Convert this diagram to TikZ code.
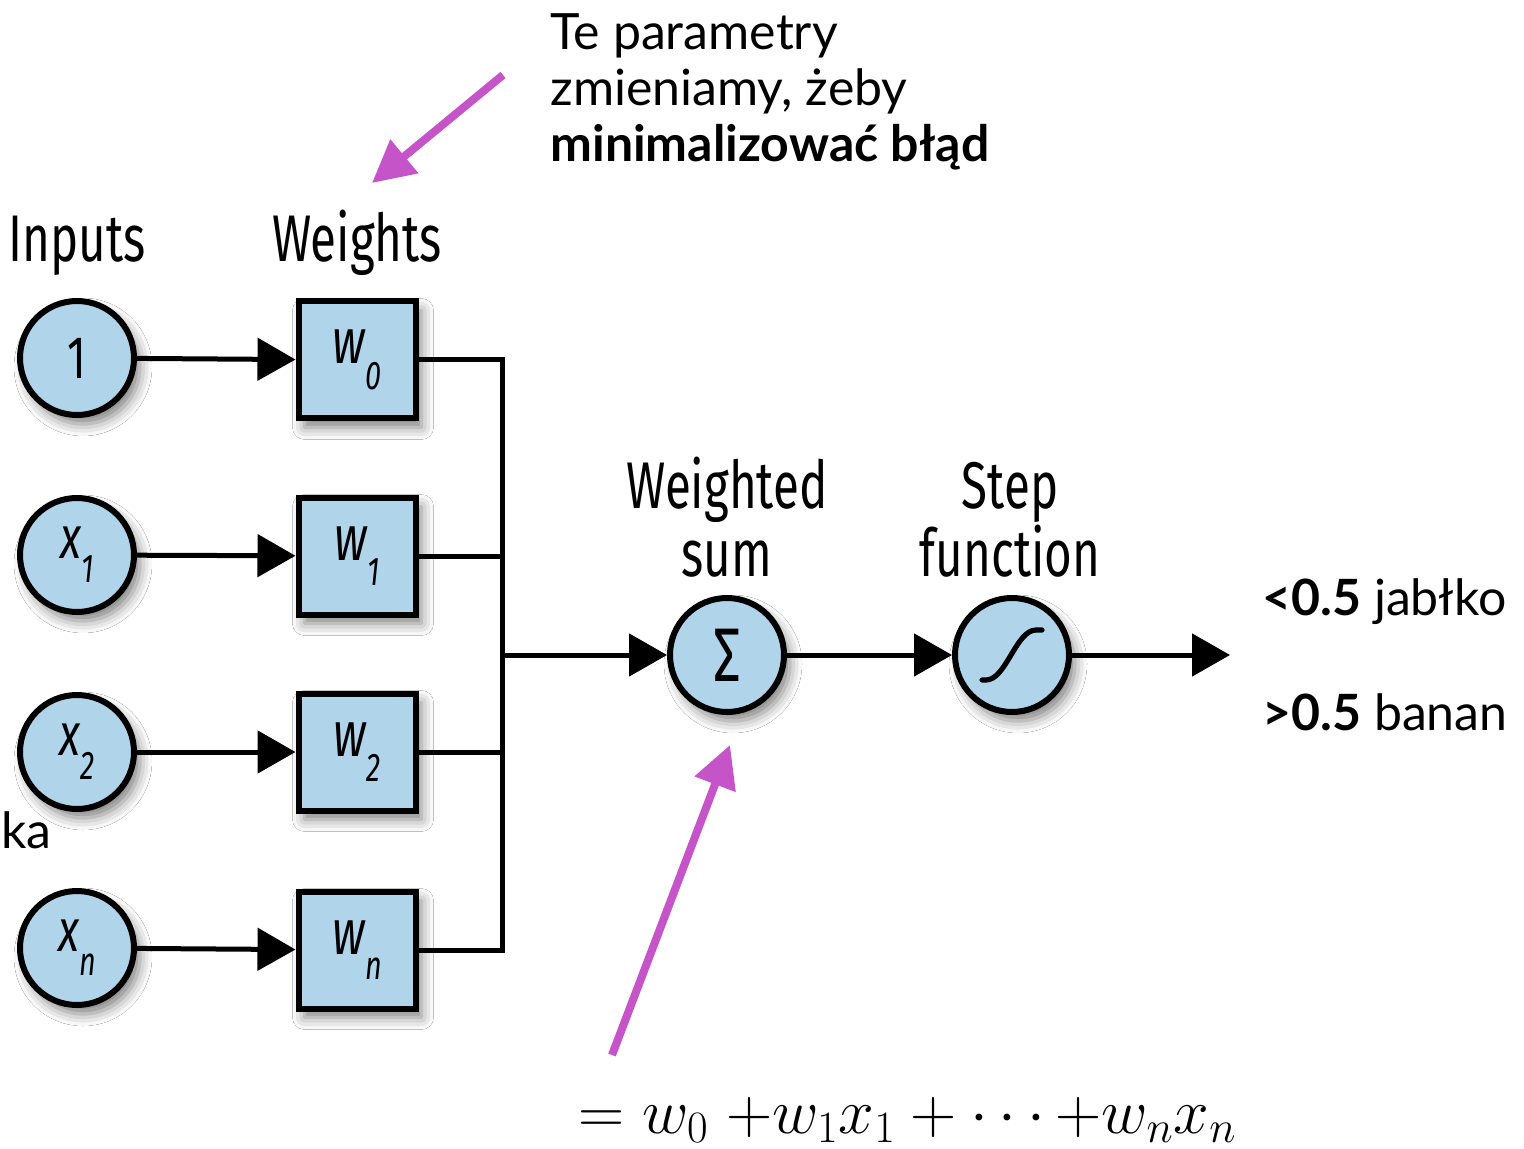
\documentclass[tikz,border=0pt]{standalone}
\usepackage{fix-cm}
\usepackage{fontspec}
\setmainfont{Lato}
\newfontfamily\cond[FakeStretch=0.72]{Fira Sans}
\usetikzlibrary{arrows.meta,shadows.blur,calc}
\definecolor{nodeblue}{RGB}{176,212,234}
\definecolor{purp}{RGB}{196,84,200}
\newcommand{\subsc}[1]{\raisebox{-0.75ex}{\fontsize{20}{20}\selectfont\itshape #1}}
\begin{document}
\begin{tikzpicture}[x=0.5pt,y=-0.5pt,
 shadowed/.style={blur shadow={shadow xshift=3pt,shadow yshift=-4.5pt,shadow blur radius=6pt,shadow opacity=50}},
 inp/.style={circle,draw,line width=3pt,fill=nodeblue,minimum size=57pt,inner sep=0pt,shadowed,font=\cond\fontsize{30}{32}\selectfont},
 wbox/.style={rectangle,draw,line width=3pt,fill=nodeblue,minimum size=58.5pt,inner sep=0pt,shadowed,font=\cond\itshape\fontsize{32}{34}\selectfont},
 conn/.style={line width=2.5pt},
 arr/.style={conn,-{Triangle[length=19pt,width=21pt]}},
 lbl/.style={font=\cond\fontsize{33}{34}\selectfont,align=center,inner sep=0pt},
 note/.style={font=\fontsize{25}{28}\selectfont,align=left,inner sep=0pt},
 parr/.style={purp,line width=4pt,-{Triangle[length=21pt,width=21pt]}}]
\useasboundingbox[fill=white] (0,0) rectangle (1524,1149);

% inputs
\node[inp] (i0) at (77,358) {1};
\node[inp] (i1) at (77,555) {\itshape x\subsc{1}};
\node[inp] (i2) at (77,752) {\itshape x\subsc{2}};
\node[inp] (in) at (77,948) {\itshape x\subsc{n}};

% weights
\node[wbox] (w0) at (357,360) {w\subsc{0}};
\node[wbox] (w1) at (357,556) {w\subsc{1}};
\node[wbox] (w2) at (357,752) {w\subsc{2}};
\node[wbox] (wn) at (357,950) {w\subsc{n}};

% sum and step
\node[inp,font=\cond\fontsize{38}{40}\selectfont] (sum) at (727,655) {Σ};
\node[inp] (st) at (1012,655) {};
\draw[line width=2.6pt,line cap=round] ($(st)+(-30,25)$) -- ($(st)+(-26,25)$) .. controls ($(st)+(-6,25)$) and ($(st)+(4,-25)$) .. ($(st)+(24,-25)$) -- ($(st)+(30,-25)$);

% bus coordinates
\coordinate (bt) at (502,360);
\coordinate (bb) at (502,950);
\coordinate (bm) at (502,655);
\coordinate (out) at (1230,655);

% connectors
\draw[arr] (i0) -- (w0);
\draw[arr] (i1) -- (w1);
\draw[arr] (i2) -- (w2);
\draw[arr] (in) -- (wn);
\draw[conn] (w0.east) -- (bt) -- (bb) -- (wn.east);
\draw[conn] (w1.east) -- (w1.east -| bt);
\draw[conn] (w2.east) -- (w2.east -| bt);
\draw[arr] (bm) -- (sum);
\draw[arr] (sum) -- (st);
\draw[arr] (st) -- (out);

% labels
\node[lbl,anchor=base] (linp) at (77,262) {Inputs};
\node[lbl,anchor=base] (lw) at (357,262) {Weights};
\node[lbl,anchor=base] (lsum) at (727,576) {Weighted\\sum};
\node[lbl,anchor=base] (lst) at (1010,576) {Step\\function};

% notes
\node[note,anchor=base west] (top) at (550,162) {Te parametry\\zmieniamy, żeby\\\textbf{minimalizować błąd}};
\node[note,anchor=base west] (o1) at (1262,615) {\textbf{<0.5} jabłko};
\node[note,anchor=base west] (o2) at (1262,730) {\textbf{>0.5} banan};
\node[note,anchor=base east] (cut) at (52,848) {żka};
\node[inner sep=0pt,anchor=base west,font=\fontsize{32}{34}\selectfont] (formula) at (578,1133) {$=w_0\;{+}w_1x_1+\cdots{+}w_nx_n$};

% purple arrows
\coordinate (p1s) at (503,75);
\coordinate (p1e) at (372,183);
\coordinate (p2s) at (612,1055);
\coordinate (p2e) at (730,745);
\draw[parr] (p1s) -- (p1e);
\draw[parr] (p2s) -- (p2e);
\end{tikzpicture}
\end{document}
